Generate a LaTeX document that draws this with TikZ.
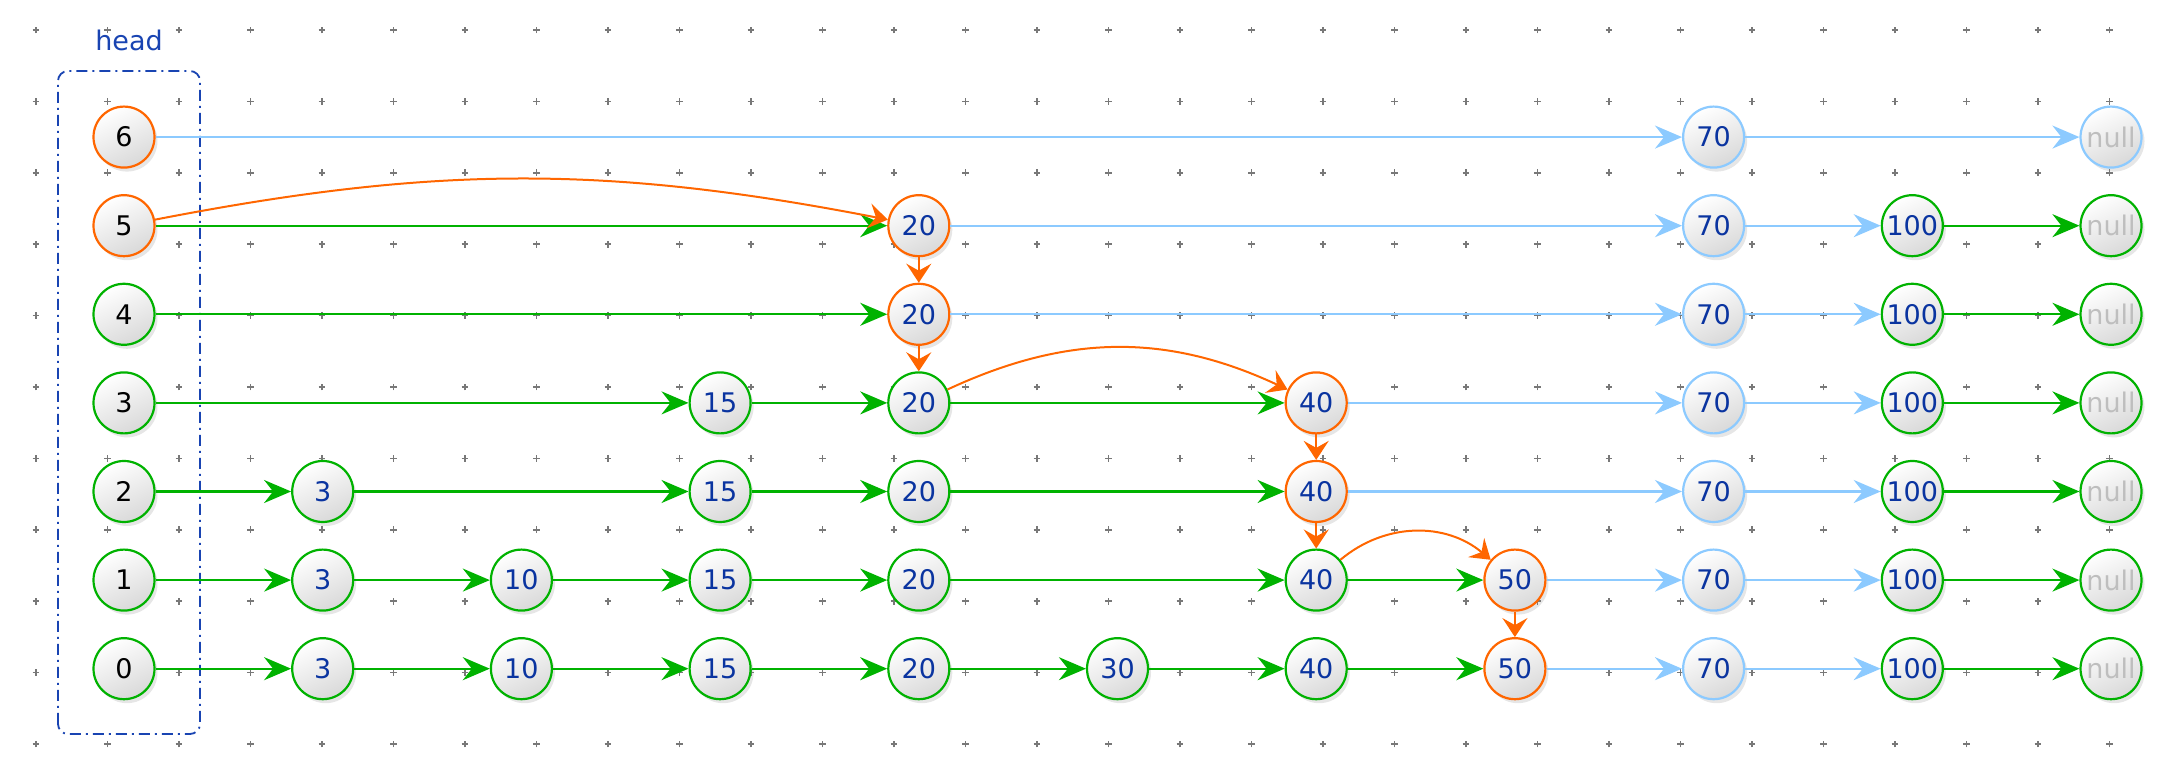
\documentclass[tikz,border=0pt]{standalone}
\usepackage{fontspec}
\setmainfont{DejaVu Sans}
\usetikzlibrary{arrows.meta,shadows}

\definecolor{hotorange}{RGB}{255,102,0}
\definecolor{linkgreen}{RGB}{0,178,0}
\definecolor{linkblue}{RGB}{140,202,255}
\definecolor{keyblue}{RGB}{10,52,160}
\definecolor{nullgray}{RGB}{190,190,190}
\definecolor{boxblue}{RGB}{25,68,178}
\definecolor{dotgray}{RGB}{120,120,120}

\begin{document}
\begin{tikzpicture}[x=99.35pt, y=44.3pt,
    key/.style={circle, minimum size=30.5pt, inner sep=0pt, line width=1.1pt,
        top color=white, bottom color=black!15, shading angle=25,
        drop shadow={shadow xshift=1.5pt, shadow yshift=-2pt, opacity=0.2},
        font=\fontsize{13.5}{16}\selectfont, text=keyblue},
    hotnode/.style={key, draw=hotorange},
    greennode/.style={key, draw=linkgreen},
    bluenode/.style={key, draw=linkblue},
    headnum/.style={text=black},
    nullnum/.style={text=nullgray},
    greenlink/.style={-{Stealth[length=13.5pt,width=11.5pt,inset=4.5pt]}, linkgreen, line width=1.1pt},
    bluelink/.style={-{Stealth[length=13.5pt,width=11.5pt,inset=4.5pt]}, linkblue, line width=1.1pt},
    hotlink/.style={-{Stealth[length=9.5pt,width=12.5pt,inset=3.5pt]}, hotorange, line width=1pt},
    plusmark/.style={draw=dotgray, line width=0.85pt},
    headbox/.style={draw=boxblue, line width=0.9pt, rounded corners=5pt,
        dash pattern=on 5.5pt off 2.5pt on 1pt off 2.5pt},
    boxlabel/.style={font=\fontsize{13.5}{16}\selectfont, text=boxblue}]

    \useasboundingbox (-62pt,-52.65pt) rectangle (1027pt,334.35pt);

    % background grid
    \foreach \i in {0,...,29}
        \foreach \j in {0,...,10}
            \draw[plusmark] (-44pt+35.75pt*\i, 319.35pt-35.7pt*\j)
                +(-1.7pt,0) -- +(1.7pt,0) +(0,-1.7pt) -- +(0,1.7pt);

    \draw[headbox] (-33pt,-32.65pt) rectangle (38pt,298.85pt);
    \node[boxlabel] (headtag) at (2.5pt,314.35pt) {head};

    % head column
    \node[hotnode,headnum]   (h6) at (0,6) {6};
    \node[hotnode,headnum]   (h5) at (0,5) {5};
    \node[greennode,headnum] (h4) at (0,4) {4};
    \node[greennode,headnum] (h3) at (0,3) {3};
    \node[greennode,headnum] (h2) at (0,2) {2};
    \node[greennode,headnum] (h1) at (0,1) {1};
    \node[greennode,headnum] (h0) at (0,0) {0};

    % level 6
    \node[bluenode]         (r6n70)  at (8,6)  {70};
    \node[bluenode,nullnum] (r6null) at (10,6) {null};
    % level 5
    \node[hotnode]           (r5n20)  at (4,5)  {20};
    \node[bluenode]          (r5n70)  at (8,5)  {70};
    \node[greennode]         (r5n100) at (9,5)  {100};
    \node[greennode,nullnum] (r5null) at (10,5) {null};
    % level 4
    \node[hotnode]           (r4n20)  at (4,4)  {20};
    \node[bluenode]          (r4n70)  at (8,4)  {70};
    \node[greennode]         (r4n100) at (9,4)  {100};
    \node[greennode,nullnum] (r4null) at (10,4) {null};
    % level 3
    \node[greennode]         (r3n15)  at (3,3)  {15};
    \node[greennode]         (r3n20)  at (4,3)  {20};
    \node[hotnode]           (r3n40)  at (6,3)  {40};
    \node[bluenode]          (r3n70)  at (8,3)  {70};
    \node[greennode]         (r3n100) at (9,3)  {100};
    \node[greennode,nullnum] (r3null) at (10,3) {null};
    % level 2
    \node[greennode]         (r2n3)   at (1,2)  {3};
    \node[greennode]         (r2n15)  at (3,2)  {15};
    \node[greennode]         (r2n20)  at (4,2)  {20};
    \node[hotnode]           (r2n40)  at (6,2)  {40};
    \node[bluenode]          (r2n70)  at (8,2)  {70};
    \node[greennode]         (r2n100) at (9,2)  {100};
    \node[greennode,nullnum] (r2null) at (10,2) {null};
    % level 1
    \node[greennode]         (r1n3)   at (1,1)  {3};
    \node[greennode]         (r1n10)  at (2,1)  {10};
    \node[greennode]         (r1n15)  at (3,1)  {15};
    \node[greennode]         (r1n20)  at (4,1)  {20};
    \node[greennode]         (r1n40)  at (6,1)  {40};
    \node[hotnode]           (r1n50)  at (7,1)  {50};
    \node[bluenode]          (r1n70)  at (8,1)  {70};
    \node[greennode]         (r1n100) at (9,1)  {100};
    \node[greennode,nullnum] (r1null) at (10,1) {null};
    % level 0
    \node[greennode]         (r0n3)   at (1,0)  {3};
    \node[greennode]         (r0n10)  at (2,0)  {10};
    \node[greennode]         (r0n15)  at (3,0)  {15};
    \node[greennode]         (r0n20)  at (4,0)  {20};
    \node[greennode]         (r0n30)  at (5,0)  {30};
    \node[greennode]         (r0n40)  at (6,0)  {40};
    \node[hotnode]           (r0n50)  at (7,0)  {50};
    \node[bluenode]          (r0n70)  at (8,0)  {70};
    \node[greennode]         (r0n100) at (9,0)  {100};
    \node[greennode,nullnum] (r0null) at (10,0) {null};

    \path[bluelink] (h6) edge (r6n70) (r6n70) edge (r6null)
        (r5n20) edge (r5n70) (r5n70) edge (r5n100)
        (r4n20) edge (r4n70) (r4n70) edge (r4n100)
        (r3n40) edge (r3n70) (r3n70) edge (r3n100)
        (r2n40) edge (r2n70) (r2n70) edge (r2n100)
        (r1n50) edge (r1n70) (r1n70) edge (r1n100)
        (r0n50) edge (r0n70) (r0n70) edge (r0n100);

    \path[greenlink] (h5) edge (r5n20) (r5n100) edge (r5null)
        (h4) edge (r4n20) (r4n100) edge (r4null)
        (h3) edge (r3n15) (r3n15) edge (r3n20) (r3n20) edge (r3n40) (r3n100) edge (r3null)
        (h2) edge (r2n3) (r2n3) edge (r2n15) (r2n15) edge (r2n20) (r2n20) edge (r2n40)
        (r2n100) edge (r2null)
        (h1) edge (r1n3) (r1n3) edge (r1n10) (r1n10) edge (r1n15) (r1n15) edge (r1n20)
        (r1n20) edge (r1n40) (r1n40) edge (r1n50) (r1n100) edge (r1null)
        (h0) edge (r0n3) (r0n3) edge (r0n10) (r0n10) edge (r0n15) (r0n15) edge (r0n20)
        (r0n20) edge (r0n30) (r0n30) edge (r0n40) (r0n40) edge (r0n50) (r0n100) edge (r0null);

    % search path
    \path[hotlink] (h5) edge [bend left=11] (r5n20)
        (r5n20) edge (r4n20)
        (r4n20) edge (r3n20)
        (r3n20) edge [bend left=25] (r3n40)
        (r3n40) edge (r2n40)
        (r2n40) edge (r1n40)
        (r1n40) edge [bend left=40] (r1n50)
        (r1n50) edge (r0n50);

\end{tikzpicture}
\end{document}
